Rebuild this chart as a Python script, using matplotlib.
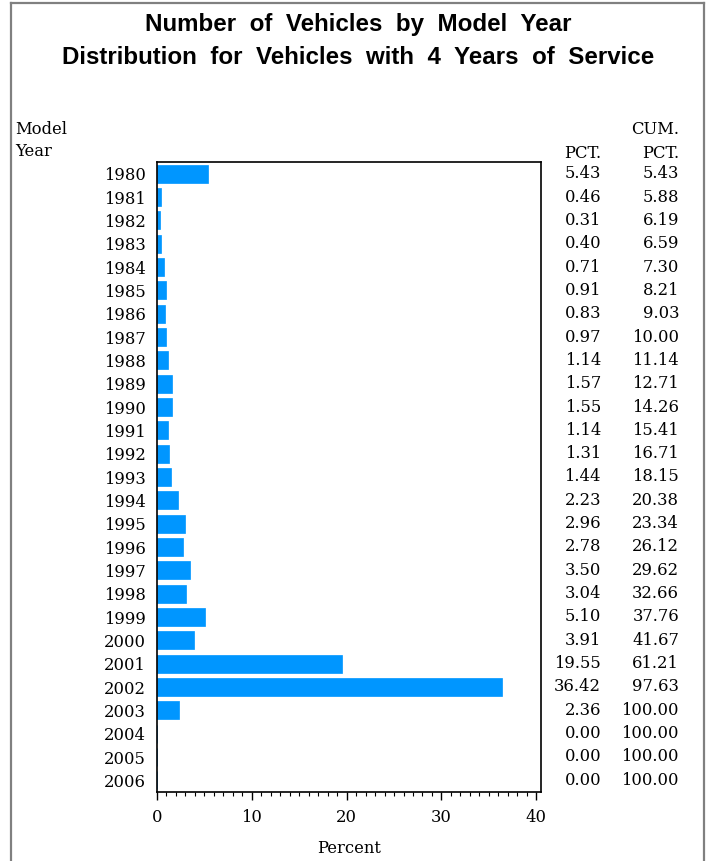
import numpy as np
import matplotlib
matplotlib.use("Agg")
import matplotlib.pyplot as plt
from matplotlib.lines import Line2D

# model years and percent of vehicles per year
years = list(range(1980, 2007))
pct = [5.43, 0.46, 0.31, 0.40, 0.71, 0.91, 0.83, 0.97, 1.14, 1.57,
       1.55, 1.14, 1.31, 1.44, 2.23, 2.96, 2.78, 3.50, 3.04, 5.10,
       3.91, 19.55, 36.42, 2.36, 0.00, 0.004, 0.00]
cum_pct = [5.43, 5.88, 6.19, 6.59, 7.30, 8.21, 9.03, 10.00, 11.14, 12.71,
           14.26, 15.41, 16.71, 18.15, 20.38, 23.34, 26.12, 29.62, 32.66, 37.76,
           41.67, 61.21, 97.63, 100.00, 100.00, 100.00, 100.00]

title1 = "Number  of  Vehicles  by  Model  Year"
title2 = "Distribution  for  Vehicles  with  4  Years  of  Service"

serif = "DejaVu Serif"
fs = 11.8
W, H = 711, 861
fig = plt.figure(figsize=(W / 100, H / 100), dpi=100)

ax = fig.add_axes([157 / W, 1 - 792 / H, (541 - 157) / W, (792 - 162) / H])
y = np.arange(len(years))
ax.barh(y, pct, height=0.77, color="#0096ff", edgecolor="#0096ff", linewidth=0.5)
ax.set_ylim(len(years) - 0.5, -0.5)
ax.set_xlim(0, 40.5)
ax.set_yticks(y)
ax.set_yticklabels([str(v) for v in years], fontfamily=serif, fontsize=fs)
ax.tick_params(axis="y", length=0, pad=8)
ax.set_xticks([0, 10, 20, 30, 40])
ax.set_xticks(np.arange(0, 41, 1), minor=True)
ax.tick_params(axis="x", which="major", length=6, width=1, pad=6)
ax.tick_params(axis="x", which="minor", length=3, width=0.8)
for lab in ax.get_xticklabels():
    lab.set_fontfamily(serif)
    lab.set_fontsize(fs)
ax.set_xlabel("Percent", fontfamily=serif, fontsize=fs, labelpad=10)
for s in ax.spines.values():
    s.set_linewidth(1.2)

# column table on the right
for i in range(len(years)):
    yy = 1 - (173.7 + i * 23.33) / H
    fig.text(601 / W, yy, f"{pct[i]:.2f}", ha="right", va="center",
             fontfamily=serif, fontsize=fs)
    fig.text(679 / W, yy, f"{cum_pct[i]:.2f}", ha="right", va="center",
             fontfamily=serif, fontsize=fs)

fig.text(601 / W, 1 - 153 / H, "PCT.", ha="right", va="center", fontfamily=serif, fontsize=fs)
fig.text(679 / W, 1 - 130 / H, "CUM.", ha="right", va="center", fontfamily=serif, fontsize=fs)
fig.text(679 / W, 1 - 153 / H, "PCT.", ha="right", va="center", fontfamily=serif, fontsize=fs)
fig.text(15 / W, 1 - 129 / H, "Model", ha="left", va="center", fontfamily=serif, fontsize=fs)
fig.text(15 / W, 1 - 151 / H, "Year", ha="left", va="center", fontfamily=serif, fontsize=fs)

# titles
fig.text(358 / W, 1 - 25 / H, title1, ha="center", va="center",
         fontfamily="Liberation Sans", fontweight="bold", fontsize=17.4)
fig.text(358 / W, 1 - 58 / H, title2, ha="center", va="center",
         fontfamily="Liberation Sans", fontweight="bold", fontsize=17.4)

# gray frame (no bottom edge)
fx0, fx1, fy = 11 / W, 704 / W, 1 - 3 / H
for xs, ys in [([fx0, fx0], [0, fy]), ([fx1, fx1], [0, fy]), ([fx0, fx1], [fy, fy])]:
    fig.add_artist(Line2D(xs, ys, color="#808080", linewidth=1.6, transform=fig.transFigure))

fig.savefig("out.png", dpi=100)
